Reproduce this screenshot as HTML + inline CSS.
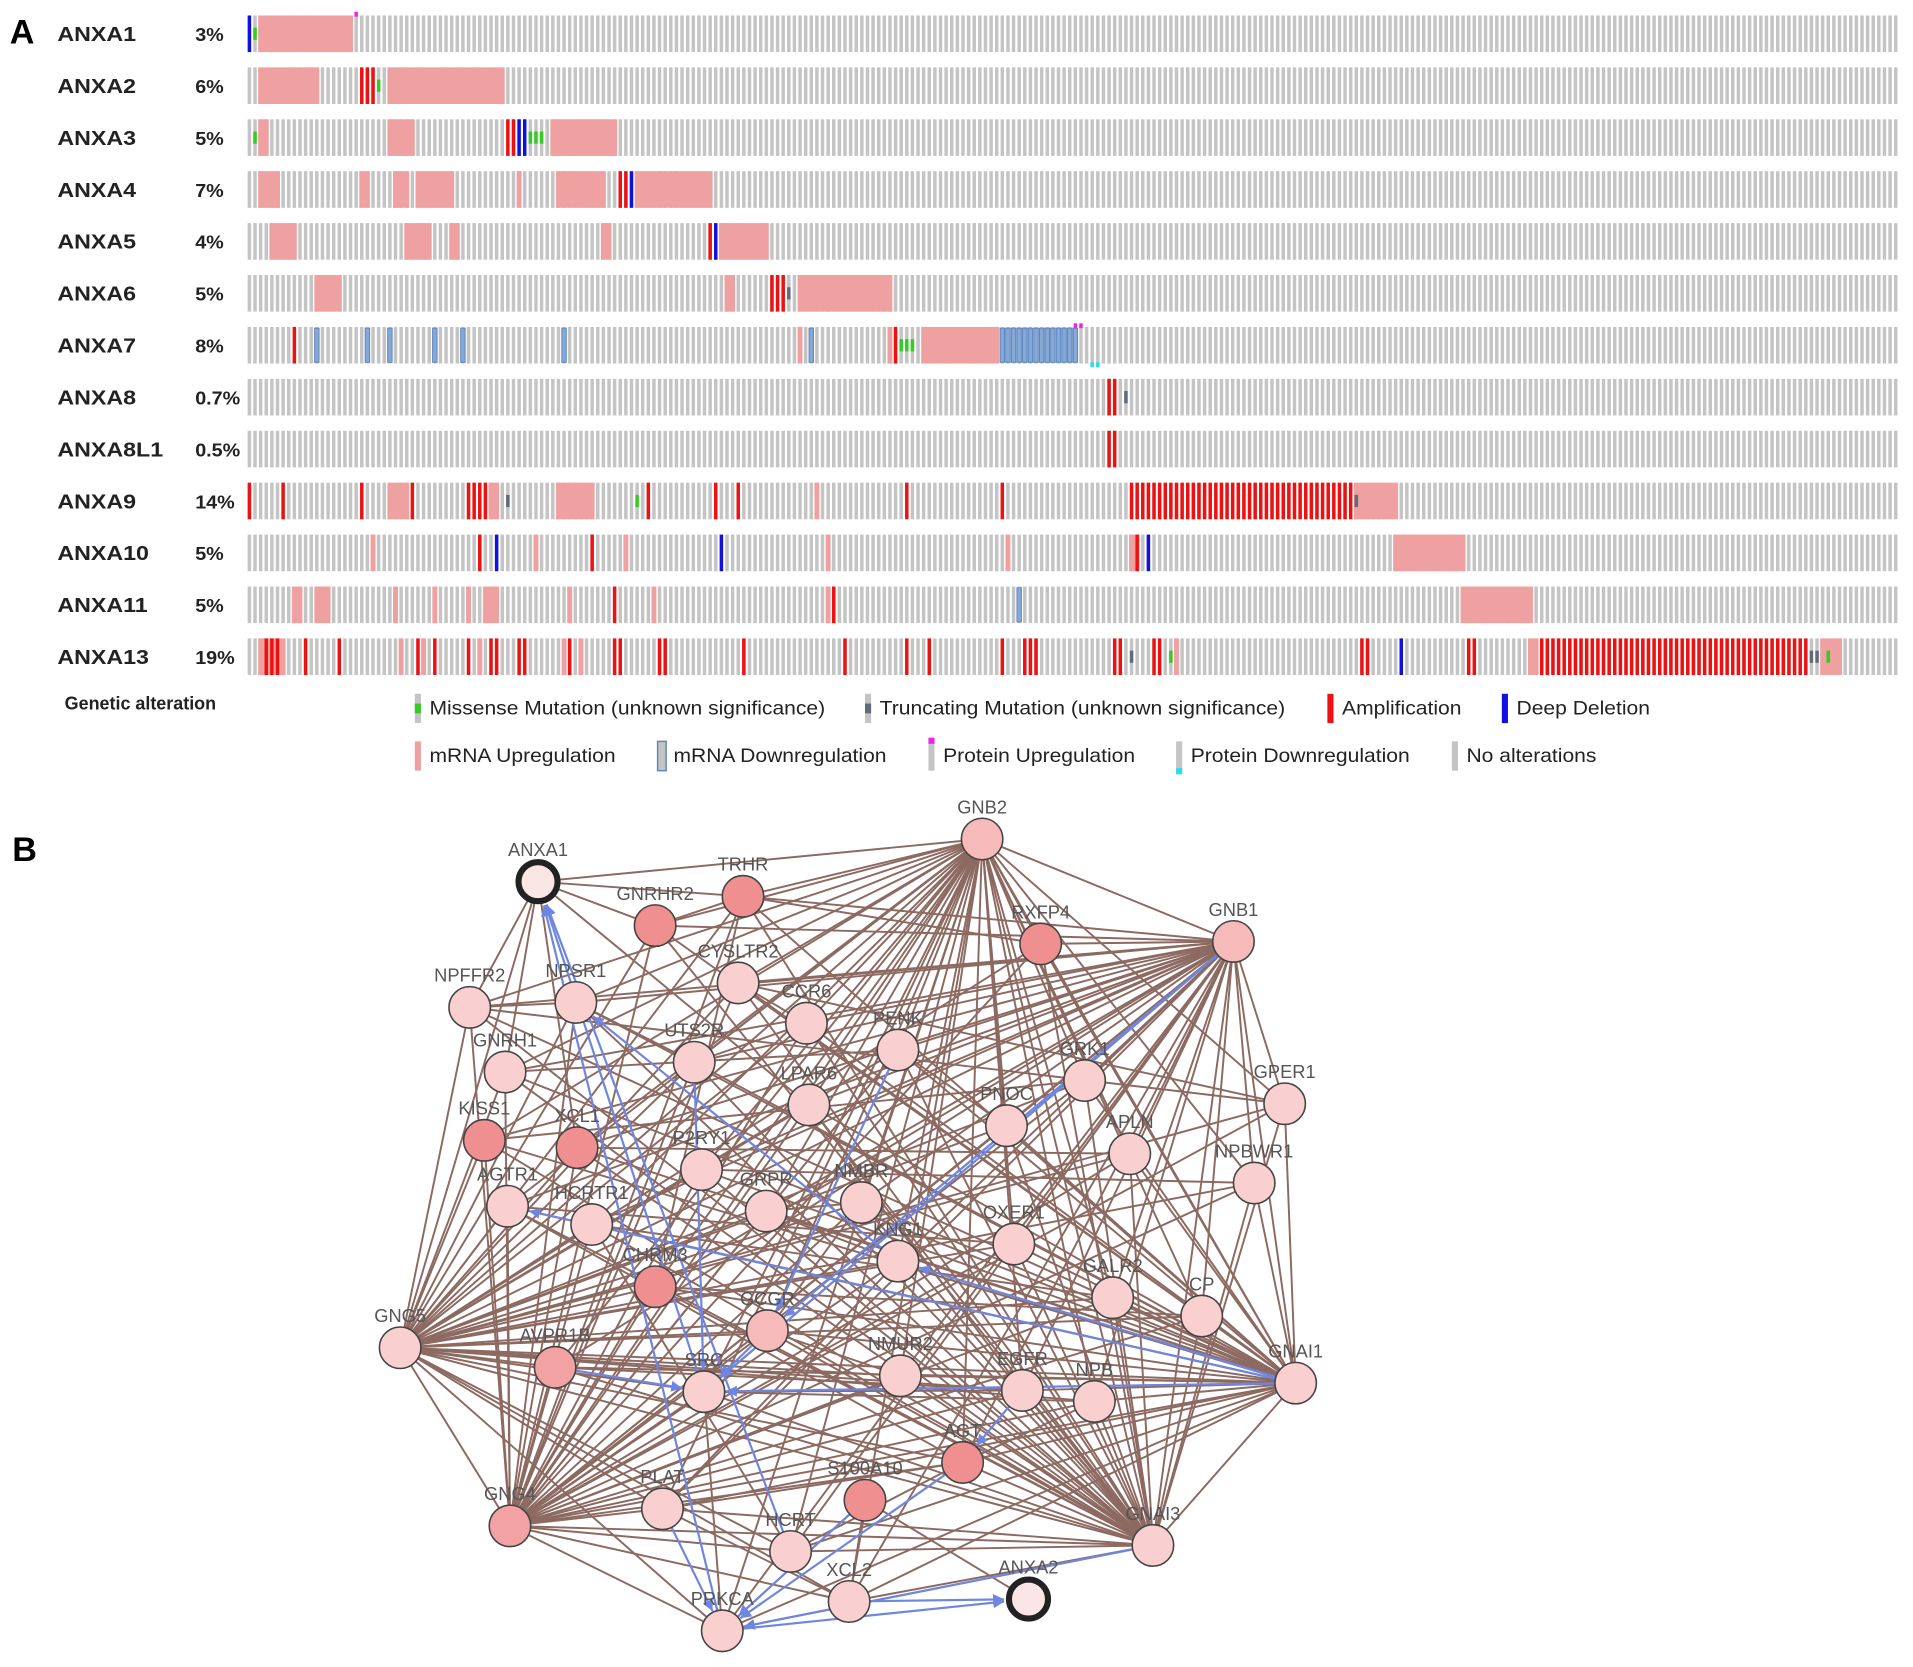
<!DOCTYPE html>
<html><head><meta charset="utf-8">
<style>
html,body{margin:0;padding:0;background:#fff;}
svg{display:block;}
text{font-family:"Liberation Sans",Arial,sans-serif;}
</style></head>
<body>
<svg id="fig" width="1913" height="1667" viewBox="0 0 1568 1365" xmlns="http://www.w3.org/2000/svg">
<rect x="0" y="0" width="1568" height="1365" fill="#fff"/>
<text x="8" y="35" font-size="28" font-weight="bold">A</text>
<text x="10" y="705" font-size="28" font-weight="bold">B</text>
<g id="onco"></g>
<g id="legend"></g>
<g id="edges"></g>
<g id="nodes"></g>
</svg>
<script>
const NS="http://www.w3.org/2000/svg";
const genes=["ANXA1","ANXA2","ANXA3","ANXA4","ANXA5","ANXA6","ANXA7","ANXA8","ANXA8L1","ANXA9","ANXA10","ANXA11","ANXA13"];
const pcts=["3%","6%","5%","7%","4%","5%","8%","0.7%","0.5%","14%","5%","5%","19%"];
const nSamples=294;
const up=[
 [[2,18]],
 [[2,12],[25,45]],
 [[2,3],[25,29],[54,65]],
 [[2,5],[20,21],[26,28],[30,36],[48,48],[55,63],[69,82]],
 [[4,8],[28,32],[36,37],[63,64],[84,92]],
 [[12,16],[85,86],[98,114]],
 [[98,98],[114,114],[120,133]],
 [],[],
 [[25,28],[43,44],[55,61],[101,101],[197,204]],
 [[22,22],[51,51],[67,67],[103,103],[135,135],[157,158],[204,216]],
 [[8,9],[12,14],[26,26],[33,33],[39,39],[42,44],[57,57],[72,72],[103,103],[216,228]],
 [[2,6],[27,27],[31,31],[41,41],[56,56],[59,59],[165,165],[228,229],[280,283]]
];
const amp=[
 [],[20,21,22],[46,47],[66,67],[82],[93,94,95],[8,115],[153,154],[153,154],
 [0,6,20,29,39,40,41,42,71,83,87,117,134,157,158,159,160,161,162,163,164,165,166,167,168,169,170,171,172,173,174,175,176,177,178,179,180,181,182,183,184,185,186,187,188,189,190,191,192,193,194,195,196],
 [41,61,158],[65,104],
 [3,4,5,10,16,30,33,39,43,44,48,49,57,65,66,73,74,88,106,117,121,134,138,139,140,154,155,161,162,198,199,217,218,230,231,232,233,234,235,236,237,238,239,240,241,242,243,244,245,246,247,248,249,250,251,252,253,254,255,256,257,258,259,260,261,262,263,264,265,266,267,268,269,270,271,272,273,274,275,276,277]
];
const del=[[0],[],[48,49],[68],[83],[],[],[],[],[],[44,84,160],[],[205]];
const miss=[[1],[23],[1,50,51,52],[],[],[],[116,117,118],[],[],[69],[],[],[164,281]];
const trunc=[[],[],[],[],[],[96],[],[156],[],[46,197],[],[],[157,278,279]];
const down=[[],[],[],[],[],[],[12,21,25,33,38,56,100,134,135,136,137,138,139,140,141,142,143,144,145,146,147],[],[],[],[],[137],[]];
const protUp=[[19],[],[],[],[],[],[147,148],[],[],[],[],[],[]];
const protDown=[[],[],[],[],[],[],[150,151],[],[],[],[],[],[]];

function mk(tag,attrs,parent){const e=document.createElementNS(NS,tag);for(const k in attrs)e.setAttribute(k,attrs[k]);parent.appendChild(e);return e;}
const onco=document.getElementById('onco');
const X0=203,W=1354,pitch=W/nSamples,bw=pitch*0.62;
const sx=i=>X0+i*pitch;
const rowY=r=>27+r*42.55;
const RH=30;
genes.forEach((g,r)=>{
 const cy=rowY(r),top=cy-RH/2;
 const grp=mk('g',{},onco);
 
 
 const t=mk('text',{x:47,y:cy+6,'font-size':17,'font-weight':'bold',fill:'#222',transform:'translate(47,0) scale(1.12,1) translate(-47,0)'},grp);t.textContent=g;
 
 const p=mk('text',{x:160,y:cy+6,'font-size':15,'font-weight':'bold',fill:'#222',transform:'translate(160,0) scale(1.08,1) translate(-160,0)'},grp);p.textContent=pcts[r];
 
 for(let i=0;i<nSamples;i++)mk('rect',{x:sx(i),y:top,width:bw,height:RH,fill:'#c4c4c4'},grp);
 up[r].forEach(([a,b])=>{const rc=mk('rect',{x:sx(a)-0.6,y:top,width:(b-a)*pitch+bw+1.2,height:RH,fill:'#efa0a0'},grp);
  });
 down[r].forEach(i=>mk('rect',{x:sx(i)-0.4,y:top+1,width:bw+0.8,height:RH-2,fill:'#85a8d6',stroke:'#5d86bd','stroke-width':0.8},grp));
 amp[r].forEach(i=>{const rc=mk('rect',{x:sx(i),y:top,width:bw,height:RH,fill:'#ee1111'},grp);
  });
 del[r].forEach(i=>mk('rect',{x:sx(i),y:top,width:bw,height:RH,fill:'#1010e0'},grp));
 miss[r].forEach(i=>mk('rect',{x:sx(i),y:top+RH/3,width:bw,height:RH/3,fill:'#33cc22'},grp));
 trunc[r].forEach(i=>mk('rect',{x:sx(i),y:top+RH/3,width:bw,height:RH/3,fill:'#606a78'},grp));
 protUp[r].forEach(i=>mk('rect',{x:sx(i),y:top-3,width:bw,height:4,fill:'#ee22ee'},grp));
 protDown[r].forEach(i=>mk('rect',{x:sx(i),y:top+RH-1,width:bw,height:4,fill:'#22ddee'},grp));
});
const lg=document.getElementById('legend');
const gt=mk('text',{x:53,y:581,'font-size':15,'font-weight':'bold',fill:'#222',transform:'translate(53,0) scale(0.98,1) translate(-53,0)'},lg);gt.textContent="Genetic alteration";
const legItems=[
 [340,580,"Missense Mutation (unknown significance)","miss"],
 [709,580,"Truncating Mutation (unknown significance)","trunc"],
 [1088,580,"Amplification","amp"],
 [1231,580,"Deep Deletion","del"],
 [340,619,"mRNA Upregulation","up"],
 [540,619,"mRNA Downregulation","down"],
 [761,619,"Protein Upregulation","pup"],
 [964,619,"Protein Downregulation","pdown"],
 [1190,619,"No alterations","none"]];
legItems.forEach(([x,y,label,k])=>{
 const g=mk('g',{},lg);
 
 const top=y-12;
 let base='#c4c4c4';
 if(k==='amp')base='#ee1111';if(k==='del')base='#1010e0';if(k==='up')base='#efa0a0';
 if(k==='down')mk('rect',{x:x-1,y:top,width:7,height:24,fill:'#c4c4c4',stroke:'#5d86bd','stroke-width':1.2},g);
 else mk('rect',{x:x,y:top,width:5,height:24,fill:base},g);
 if(k==='miss')mk('rect',{x:x,y:top+8,width:5,height:8,fill:'#33cc22'},g);
 if(k==='trunc')mk('rect',{x:x,y:top+8,width:5,height:8,fill:'#606a78'},g);
 if(k==='pup')mk('rect',{x:x,y:top-3,width:5,height:5,fill:'#ee22ee'},g);
 if(k==='pdown')mk('rect',{x:x,y:top+22,width:5,height:5,fill:'#22ddee'},g);
 const tx=x+12;
 const t=mk('text',{x:tx,y:y+5,'font-size':16,fill:'#222',transform:'translate('+tx+',0) scale(1.08,1) translate('+(-tx)+',0)'},g);t.textContent=label;
});
const nodeNames=["ANXA1","GNB2","TRHR","GNRHR2","RXFP4","GNB1","CYSLTR2","NPFFR2","NPSR1","CCR6","GNRH1","UTS2R","PENK","GRK1","GPER1","LPAR6","PNOC","KISS1","XCL1","APLN","P2RY1","NPBWR1","AGTR1","NMBR","HCRTR1","OXER1","KNG1","CHRM3","GALR2","CP","GCGR","GNG5","AVPR1B","NMUR2","SRC","EGFR","NPB","GNAI1","AGT","S100A10","PLAT","GNG4","GNAI3","HCRT","XCL2","ANXA2","PRKCA","GRPR"];
const nodeX=[441,805,609,537,853,1011,605,385,472,661,414,569,736,889,1053,663,825,397,473,926,575,1028,416,706,485,831,736,537,912,985,629,328,455,738,577,838,897,1062,789,709,543,418,945,648,696,843,592,628];
const nodeY=[722,687,734,758,773,771,805,825,821,838,878,870,860,885,904,905,922,934,940,945,958,969,988,985,1003,1019,1033,1054,1063,1078,1090,1104,1120,1127,1140,1139,1148,1133,1198,1229,1236,1250,1266,1271,1312,1310,1336,992];
const nodeShade=[0,2,4,4,4,2,1,1,1,1,1,1,1,1,1,1,1,4,4,1,1,1,1,1,1,1,1,4,1,1,2,1,3,1,1,1,1,1,4,4,1,3,1,1,1,0,1,1];
const hubs=["GNB2","GNB1","GNG5","GNG4","GNAI1","GNAI3"];
const hubSkip=["ANXA1","ANXA2","S100A10"];
const extraEdges=[["ANXA1","GNB2"],["ANXA1","TRHR"],["ANXA1","GNRHR2"],["ANXA1","NPFFR2"],["ANXA1","GNRH1"],["ANXA1","XCL1"],["ANXA1","LPAR6"],["ANXA1","GNG5"],
 ["TRHR","GNRHR2"],["TRHR","RXFP4"],["NPFFR2","NPSR1"],["NPFFR2","GPER1"],["CYSLTR2","CCR6"],["CYSLTR2","GPER1"],["UTS2R","CCR6"],["GNRH1","PENK"],["KISS1","GRK1"],["XCL1","APLN"],["P2RY1","NPBWR1"],["AGTR1","OXER1"],["HCRTR1","GALR2"],["CHRM3","CP"],["AVPR1B","EGFR"],["SRC","EGFR"],["SRC","NPB"],["PLAT","AGT"],["HCRT","AGT"],["XCL2","S100A10"],["PRKCA","S100A10"],["PRKCA","SRC"],["AGT","NPB"],["KNG1","PLAT"],["NMUR2","GCGR"],["GRPR","NMBR"],["PENK","PNOC"],["HCRT","HCRTR1"],["AGT","AGTR1"],["S100A10","ANXA2"],["KNG1","GRPR"],["XCL2","PLAT"],["NPSR1","UTS2R"],["LPAR6","EGFR"],["GCGR","NMBR"],["TRHR","CHRM3"]];
const blueFrom=["SRC","PRKCA","KNG1","GNAI1","GNAI1","GNB1","GNB1","PRKCA","XCL2","AGT","EGFR","GNAI3","PLAT","S100A10","HCRT","GCGR","GNAI1","PENK","AVPR1B","UTS2R"];
const blueTo=["ANXA1","ANXA1","NPSR1","KNG1","SRC","SRC","GCGR","ANXA2","ANXA2","PRKCA","AGT","PRKCA","PRKCA","PRKCA","ANXA1","SRC","AGTR1","GCGR","SRC","SRC"];
const idx=n=>nodeNames.indexOf(n);
const edgesG=document.getElementById('edges');
function line(a,b,col,w,name){const l=mk('line',{x1:nodeX[a],y1:nodeY[a],x2:nodeX[b],y2:nodeY[b],stroke:col,'stroke-width':w},edgesG);
 return l;}
hubs.forEach(h=>{const a=idx(h);nodeNames.forEach((n,b)=>{if(b!==a&&hubSkip.indexOf(n)<0&&(hubs.indexOf(n)<0||hubs.indexOf(n)>hubs.indexOf(h)))line(a,b,'#8c6a62',1.6,'interaction-edge');});});
extraEdges.forEach(([p,q])=>line(idx(p),idx(q),'#8c6a62',1.6,'interaction-edge'));
const defs=mk('defs',{},document.getElementById('fig'));
const mkr=mk('marker',{id:'arr',markerWidth:9,markerHeight:9,refX:9,refY:4.5,orient:'auto',markerUnits:'userSpaceOnUse'},defs);
mk('path',{d:'M0,0 L9,4.5 L0,9 z',fill:'#6f86e0'},mkr);
blueFrom.forEach((f,i)=>{const a=idx(f),b=idx(blueTo[i]);
 const dx=nodeX[b]-nodeX[a],dy=nodeY[b]-nodeY[a],L=Math.hypot(dx,dy),r=b===idx('ANXA1')||b===idx('ANXA2')?20:18;
 const l=mk('line',{x1:nodeX[a],y1:nodeY[a],x2:nodeX[b]-dx/L*r,y2:nodeY[b]-dy/L*r,stroke:'#6f86e0','stroke-width':1.8,'marker-end':'url(#arr)'},edgesG);
 });
const shades=['#fbe6e6','#f9cfcf','#f6baba','#f2a2a2','#ef8f8f'];
const nodesG=document.getElementById('nodes');
nodeNames.forEach((n,i)=>{
 const g=mk('g',{},nodesG);
 
 
 const query=(n==='ANXA1'||n==='ANXA2');
 mk('circle',{cx:nodeX[i],cy:nodeY[i],r:query?16:17,fill:shades[nodeShade[i]],stroke:query?'#222':'#444','stroke-width':query?5:1.3},g);
 const t=mk('text',{x:nodeX[i],y:nodeY[i]-21,'font-size':15,'text-anchor':'middle',fill:'#555'},g);t.textContent=n;
});
</script>
</body></html>
